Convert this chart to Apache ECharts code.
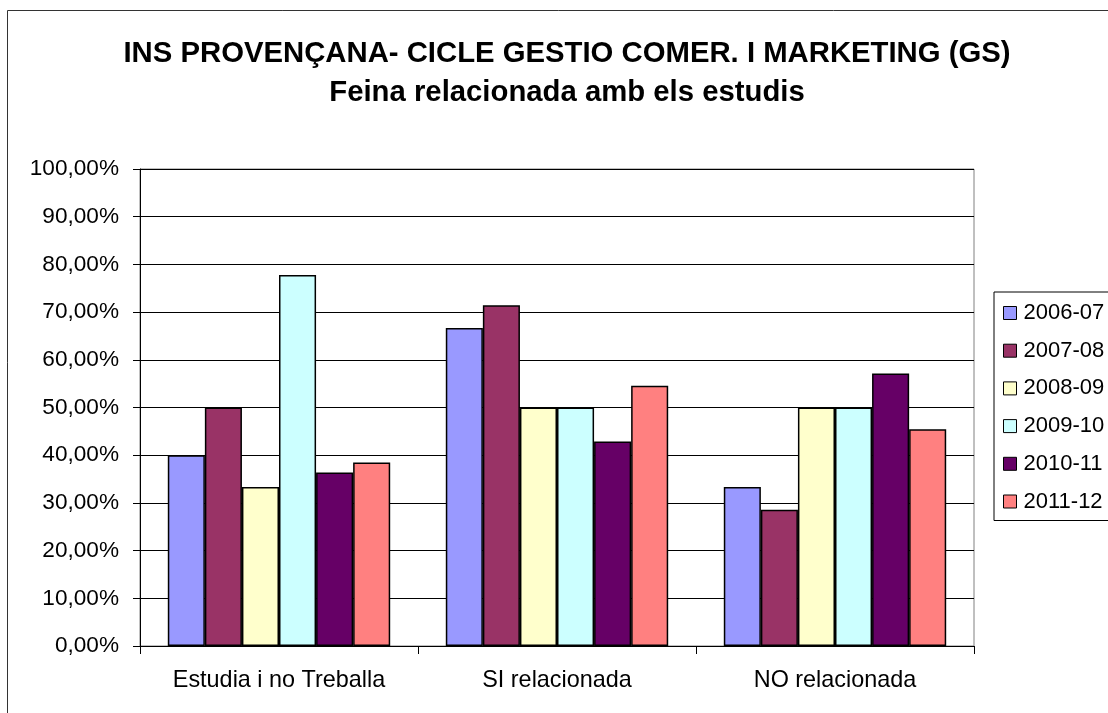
<!DOCTYPE html>
<html>
<head>
<meta charset="utf-8">
<title>Feina relacionada amb els estudis</title>
<script src="https://cdn.jsdelivr.net/npm/echarts@6/dist/echarts.min.js"></script>
<style>
  html, body { margin: 0; padding: 0; background: #fff; }
  #chart { width: 1108px; height: 713px; }
</style>
</head>
<body>
<div id="chart"></div>
<script>
// dades llegides del gràfic (percentatges)
const categories = ['Estudia i no Treballa', 'SI relacionada', 'NO relacionada'];
const courses = ['2006-07', '2007-08', '2008-09', '2009-10', '2010-11', '2011-12'];
const colors = ['#9999FF', '#993366', '#FFFFCC', '#CCFFFF', '#660066', '#FF8080'];

const v2006 = [40.00, 66.67, 33.33];
const v2007 = [50.00, 71.43, 28.57];
const v2008 = [33.33, 50.00, 50.00];
const v2009 = [77.78, 50.00, 50.00];
const v2010 = [36.36, 42.86, 57.14];
const v2011 = [38.46, 54.55, 45.45];
const seriesValues = [v2006, v2007, v2008, v2009, v2010, v2011];

const font = 'Arial, "Liberation Sans", sans-serif';

const chart = echarts.init(document.getElementById('chart'));

const series = courses.map((name, i) => ({
    name: name,
    type: 'bar',
    data: seriesValues[i],
    barGap: '0%',
    barCategoryGap: '20%',
    itemStyle: {
        color: colors[i],
        borderColor: '#000',
        borderWidth: 1.5
    },
    emphasis: { disabled: true }
}));

chart.setOption({
    backgroundColor: '#fff',
    animation: false,
    title: {
        text: 'INS PROVENÇANA- CICLE GESTIO COMER. I MARKETING (GS)\nFeina relacionada amb els estudis',
        left: 562,
        top: 29,
        textAlign: 'center',
        textStyle: {
            fontFamily: font,
            fontSize: 29.3,
            fontWeight: 'bold',
            color: '#000',
            lineHeight: 39.5
        }
    },
    legend: {
        orient: 'vertical',
        left: 994,
        top: 292,
        padding: [10, 10, 8, 9],
        itemGap: 15.7,
        itemWidth: 13,
        itemHeight: 13,
        icon: 'rect',
        borderColor: '#000',
        borderWidth: 1,
        itemStyle: { borderColor: '#000', borderWidth: 1 },
        textStyle: { fontFamily: font, fontSize: 22, color: '#000', padding: [0, 0, 0, 2] },
        data: courses
    },
    grid: {
        left: 140,
        right: 134,
        top: 169,
        bottom: 67,
        show: true,
        borderColor: '#808080',
        borderWidth: 1
    },
    xAxis: {
        type: 'category',
        data: categories,
        axisLine: { lineStyle: { color: '#000', width: 1 } },
        axisTick: { show: true, length: 8, lineStyle: { color: '#000' } },
        axisLabel: { fontFamily: font, fontSize: 23.4, color: '#000', margin: 23 }
    },
    yAxis: {
        type: 'value',
        min: 0,
        max: 100,
        interval: 10,
        axisLine: { show: true, lineStyle: { color: '#000', width: 1 } },
        axisTick: { show: true, length: 7, lineStyle: { color: '#000' } },
        splitLine: { lineStyle: { color: '#000', width: 1 } },
        axisLabel: {
            fontFamily: font,
            fontSize: 22.6,
            color: '#000',
            margin: 21,
            formatter: v => v.toFixed(2).replace('.', ',') + '%'
        }
    },
    graphic: [{
        type: 'rect',
        shape: { x: 7.5, y: 10.5, width: 1200, height: 800 },
        style: { fill: 'none', stroke: '#333', lineWidth: 1 },
        silent: true,
        z: 100
    }],
    series: series
});
</script>
</body>
</html>
